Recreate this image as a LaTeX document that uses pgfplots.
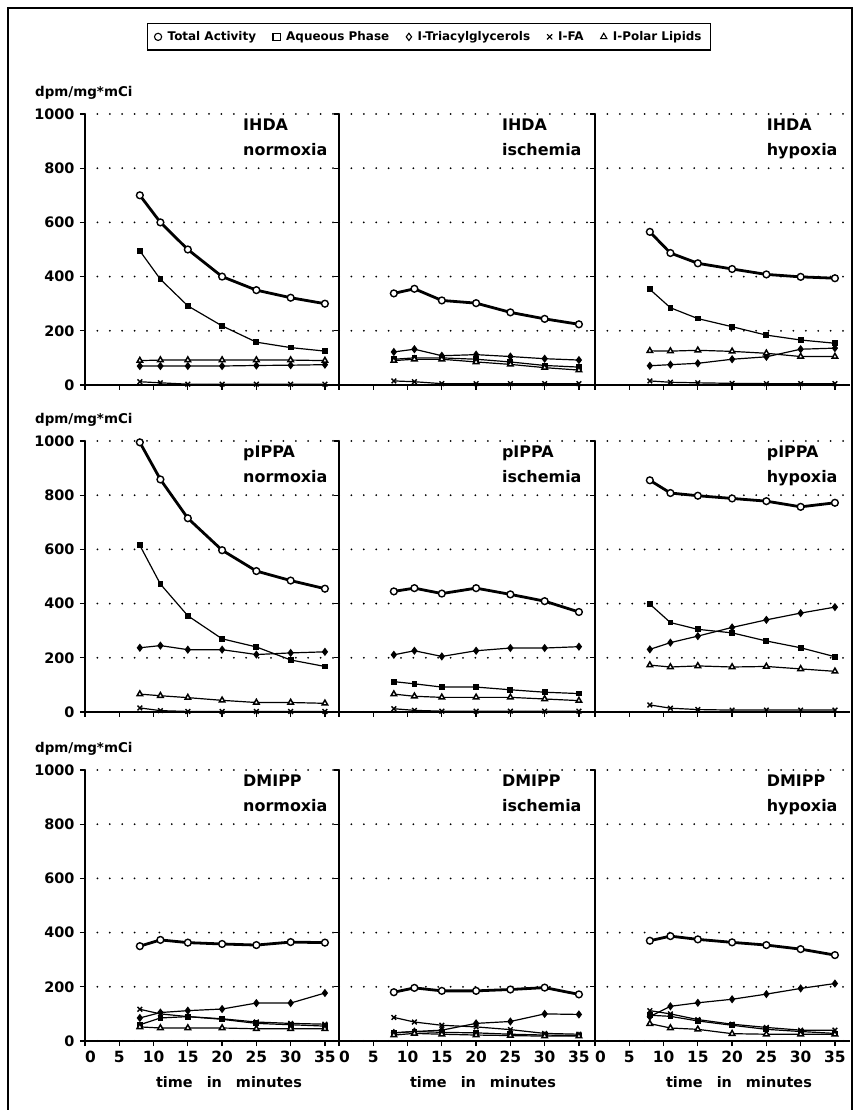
\documentclass[border=0pt]{standalone}
\usepackage{fontspec}
\setmainfont{DejaVu Sans}
\usepackage{pgfplots}
\pgfplotsset{compat=1.18}

\pgfplotsset{
  panel/.style={
    scale only axis, width=255bp, height=271bp,
    xmin=0, xmax=37.2, ymin=0, ymax=1000,
    axis x line*=bottom, axis y line*=left,
    axis line style={line width=1.5bp, -},
    xtick={0,5,...,35}, ytick={0,200,...,1000},
    tick align=outside, major tick length=5bp,
    tick style={line width=1.3bp, black},
    ymajorgrids,
    grid style={black, line width=2bp, line cap=round, dash pattern=on 0bp off 12.4bp},
    xticklabels={}, yticklabels={},
    yticklabel style={font=\fontsize{14.5}{14}\selectfont\bfseries, xshift=-2bp},
    xticklabel style={font=\fontsize{15.5}{15}\selectfont\bfseries, yshift=-2bp},
    /pgf/number format/assume math mode=true,
    clip=false,
  },
  ylab/.style={yticklabels={0,200,400,600,800,1000}},
  xlab/.style={xticklabels={\makebox[0pt][l]{0},5,10,15,20,25,30,35}},
  tot/.style={black, line width=2.8bp, mark=*, mark size=3.4bp,
    mark options={fill=white, line width=1.4bp}},
  aq/.style={black, line width=1.2bp, mark=square*, mark size=2.3bp},
  tg/.style={black, line width=1.2bp, mark=diamond*, mark size=3.2bp},
  fa/.style={black, line width=1.2bp, mark=x, mark size=3.3bp,
    mark options={line width=1.4bp}},
  pl/.style={black, line width=1.2bp, mark=triangle*, mark size=3.2bp,
    mark options={fill=white, line width=1.5bp}},
}
\newcommand{\ptitle}[2]{\node[anchor=north east, align=left, inner sep=0pt,
  font=\fontsize{16}{25}\selectfont\bfseries] at (axis cs:35.4,982) {#1\\#2};}
\newcommand{\dpm}{\node[anchor=base west, inner sep=0pt,
  font=\fontsize{13.5}{14}\selectfont\bfseries] at (axis cs:-7.3,1066) {dpm/mg*mCi};}
\newcommand{\tim}{\node[anchor=base, inner sep=0pt,
  font=\fontsize{14.5}{15}\selectfont\bfseries] at (axis cs:21,-172)
  {time\hspace{14bp}in\hspace{14bp}minutes};}

\begin{document}
\begin{tikzpicture}
\useasboundingbox (0bp,0bp) rectangle (859bp,1110bp);
\draw[line width=1.8bp] (8bp,-5bp) -- (8bp,1102bp) -- (852bp,1102bp) -- (852bp,-5bp);

% ---------- row 1: IHDA ----------
\begin{axis}[panel, ylab, at={(85bp,725bp)},
  legend columns=5,
  legend style={at={(1.349,1.336)}, anchor=north, draw=black, line width=1.3bp,
    font=\fontsize{12}{12}\selectfont\bfseries, inner xsep=7bp, inner ysep=6bp,
    /tikz/every odd column/.append style={column sep=4bp},
    /tikz/every even column/.append style={column sep=15bp}},
  legend image code/.code={\draw[#1, only marks, mark size=3.6bp,
    mark options={fill=white, line width=1.1bp}]
    plot coordinates {(0.16cm,0cm)};}]
\addplot[tot] coordinates {(8,700)(11,600)(15,500)(20,400)(25,350)(30,322)(35,300)};
\addplot[aq] coordinates {(8,495)(11,390)(15,292)(20,218)(25,158)(30,138)(35,125)};
\addplot[tg] coordinates {(8,70)(11,70)(15,70)(20,70)(25,72)(30,73)(35,75)};
\addplot[fa] coordinates {(8,12)(11,8)(15,3)(20,3)(25,3)(30,3)(35,3)};
\addplot[pl] coordinates {(8,90)(11,92)(15,92)(20,92)(25,92)(30,92)(35,90)};
\legend{Total Activity, Aqueous Phase, I-Triacylglycerols, I-FA, I-Polar Lipids}
\ptitle{IHDA}{normoxia}
\dpm
\end{axis}

\begin{axis}[panel, at={(339bp,725bp)}]
\addplot[tot] coordinates {(8,338)(11,355)(15,312)(20,302)(25,268)(30,244)(35,224)};
\addplot[aq] coordinates {(8,95)(11,100)(15,100)(20,95)(25,85)(30,72)(35,66)};
\addplot[tg] coordinates {(8,122)(11,132)(15,108)(20,112)(25,105)(30,97)(35,92)};
\addplot[fa] coordinates {(8,15)(11,12)(15,5)(20,5)(25,5)(30,5)(35,5)};
\addplot[pl] coordinates {(8,90)(11,95)(15,95)(20,85)(25,76)(30,64)(35,55)};
\ptitle{IHDA}{ischemia}
\end{axis}

\begin{axis}[panel, at={(595bp,725bp)}]
\addplot[tot] coordinates {(8,565)(11,487)(15,449)(20,428)(25,408)(30,399)(35,394)};
\addplot[aq] coordinates {(8,353)(11,285)(15,245)(20,215)(25,184)(30,166)(35,154)};
\addplot[tg] coordinates {(8,71)(11,75)(15,80)(20,95)(25,104)(30,132)(35,136)};
\addplot[fa] coordinates {(8,15)(11,10)(15,8)(20,6)(25,5)(30,5)(35,5)};
\addplot[pl] coordinates {(8,126)(11,125)(15,128)(20,124)(25,117)(30,105)(35,105)};
\ptitle{IHDA}{hypoxia}
\end{axis}

% ---------- row 2: pIPPA ----------
\begin{axis}[panel, ylab, at={(85bp,398bp)}]
\addplot[tot] coordinates {(8,995)(11,858)(15,715)(20,597)(25,520)(30,485)(35,455)};
\addplot[aq] coordinates {(8,615)(11,472)(15,355)(20,270)(25,240)(30,192)(35,168)};
\addplot[tg] coordinates {(8,237)(11,245)(15,230)(20,230)(25,212)(30,218)(35,222)};
\addplot[fa] coordinates {(8,15)(11,5)(15,2)(20,2)(25,2)(30,2)(35,2)};
\addplot[pl] coordinates {(8,66)(11,60)(15,53)(20,43)(25,35)(30,35)(35,32)};
\ptitle{pIPPA}{normoxia}
\dpm
\end{axis}

\begin{axis}[panel, at={(339bp,398bp)}]
\addplot[tot] coordinates {(8,445)(11,457)(15,437)(20,457)(25,434)(30,409)(35,369)};
\addplot[aq] coordinates {(8,112)(11,104)(15,92)(20,92)(25,82)(30,73)(35,68)};
\addplot[tg] coordinates {(8,211)(11,226)(15,205)(20,226)(25,236)(30,236)(35,241)};
\addplot[fa] coordinates {(8,12)(11,6)(15,3)(20,3)(25,3)(30,3)(35,3)};
\addplot[pl] coordinates {(8,66)(11,58)(15,54)(20,54)(25,54)(30,48)(35,42)};
\ptitle{pIPPA}{ischemia}
\end{axis}

\begin{axis}[panel, at={(595bp,398bp)}]
\addplot[tot] coordinates {(8,855)(11,808)(15,798)(20,788)(25,778)(30,757)(35,772)};
\addplot[aq] coordinates {(8,398)(11,330)(15,305)(20,292)(25,262)(30,237)(35,204)};
\addplot[tg] coordinates {(8,231)(11,256)(15,280)(20,312)(25,340)(30,365)(35,387)};
\addplot[fa] coordinates {(8,26)(11,14)(15,9)(20,7)(25,7)(30,7)(35,7)};
\addplot[pl] coordinates {(8,173)(11,166)(15,170)(20,166)(25,168)(30,159)(35,150)};
\ptitle{pIPPA}{hypoxia}
\end{axis}

% ---------- row 3: DMIPP ----------
\begin{axis}[panel, ylab, xlab, at={(85bp,69bp)}]
\addplot[tot] coordinates {(8,350)(11,373)(15,363)(20,358)(25,354)(30,365)(35,363)};
\addplot[aq] coordinates {(8,60)(11,85)(15,90)(20,80)(25,65)(30,60)(35,55)};
\addplot[tg] coordinates {(8,85)(11,105)(15,112)(20,118)(25,140)(30,140)(35,177)};
\addplot[fa] coordinates {(8,117)(11,100)(15,90)(20,82)(25,70)(30,65)(35,62)};
\addplot[pl] coordinates {(8,52)(11,48)(15,48)(20,48)(25,45)(30,45)(35,45)};
\ptitle{DMIPP}{normoxia}
\dpm
\tim
\end{axis}

\begin{axis}[panel, xlab, at={(339bp,69bp)}]
\addplot[tot] coordinates {(8,180)(11,196)(15,185)(20,185)(25,190)(30,197)(35,172)};
\addplot[aq] coordinates {(8,30)(11,35)(15,32)(20,30)(25,25)(30,22)(35,20)};
\addplot[tg] coordinates {(8,30)(11,35)(15,40)(20,65)(25,72)(30,100)(35,98)};
\addplot[fa] coordinates {(8,87)(11,70)(15,58)(20,52)(25,42)(30,28)(35,25)};
\addplot[pl] coordinates {(8,22)(11,28)(15,25)(20,22)(25,20)(30,18)(35,18)};
\ptitle{DMIPP}{ischemia}
\tim
\end{axis}

\begin{axis}[panel, xlab, at={(595bp,69bp)}]
\addplot[tot] coordinates {(8,370)(11,387)(15,375)(20,364)(25,354)(30,339)(35,317)};
\addplot[aq] coordinates {(8,95)(11,91)(15,74)(20,58)(25,43)(30,35)(35,28)};
\addplot[tg] coordinates {(8,90)(11,128)(15,141)(20,154)(25,173)(30,194)(35,212)};
\addplot[fa] coordinates {(8,112)(11,100)(15,79)(20,62)(25,50)(30,40)(35,40)};
\addplot[pl] coordinates {(8,64)(11,48)(15,43)(20,27)(25,25)(30,25)(35,25)};
\ptitle{DMIPP}{hypoxia}
\tim
\end{axis}
\end{tikzpicture}
\end{document}
